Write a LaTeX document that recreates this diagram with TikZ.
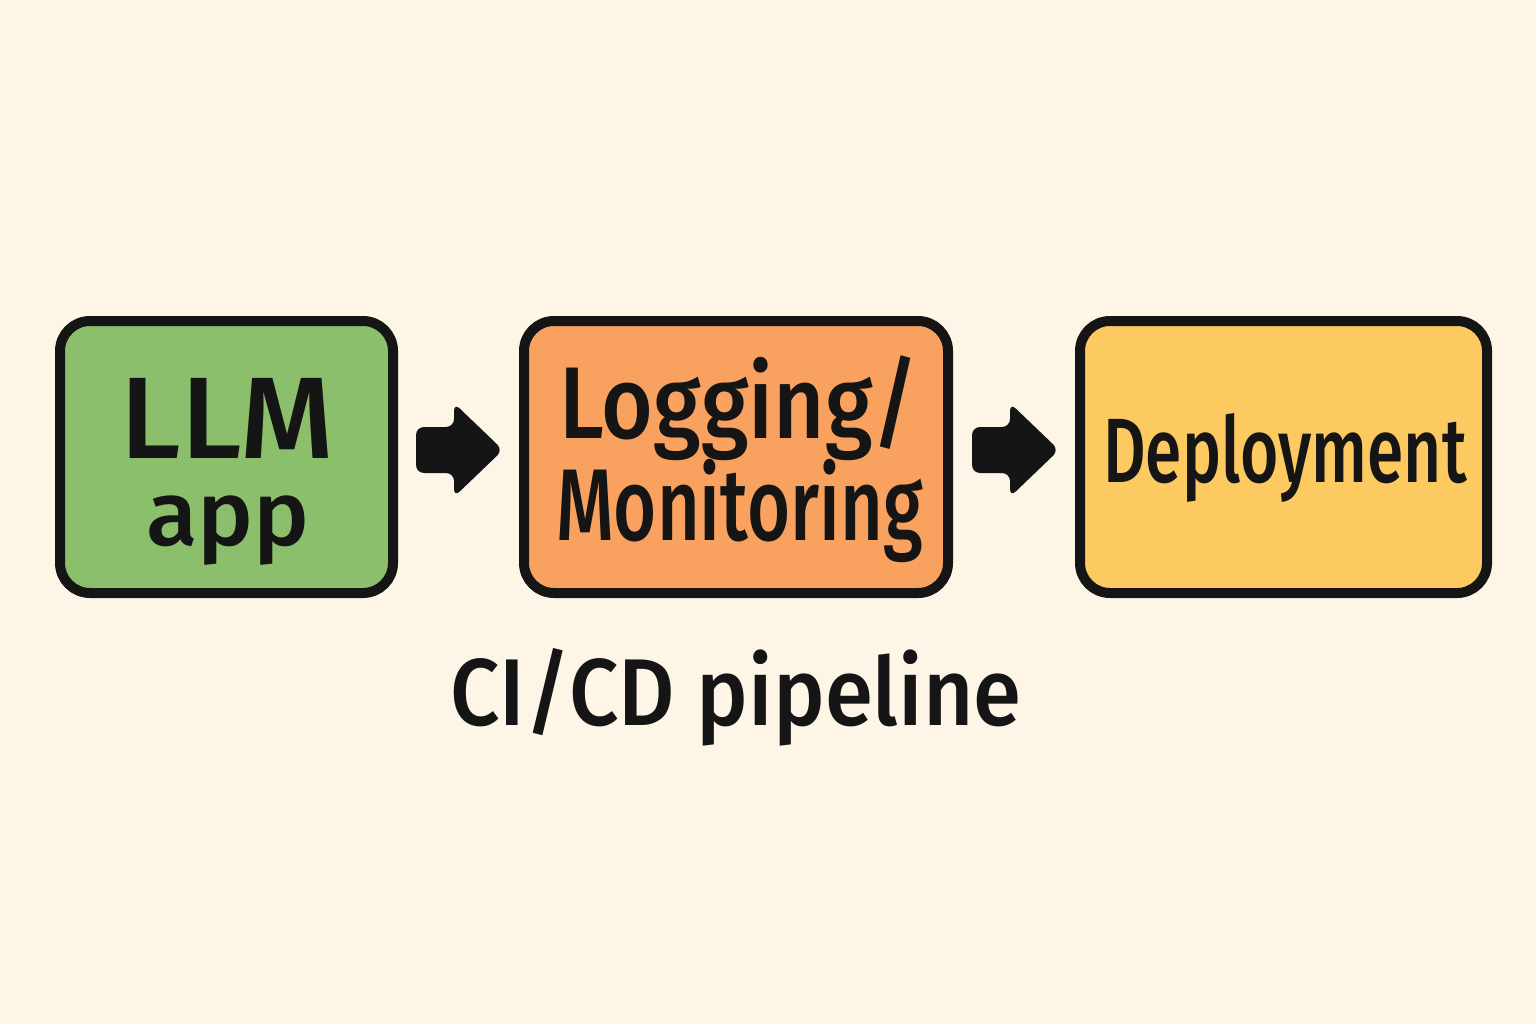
\documentclass[tikz,border=0pt]{standalone}
\usepackage{fontspec}
\setmainfont{Fira Sans}[BoldFont={Fira Sans Medium}]
\usetikzlibrary{calc}
\definecolor{bg}{HTML}{FDF6E7}
\definecolor{ink}{HTML}{151515}
\definecolor{gbox}{HTML}{8CBF6B}
\definecolor{obox}{HTML}{F9A15F}
\definecolor{ybox}{HTML}{FDC961}
\tikzset{
  stagebox/.style={draw=ink, fill=#1, line width=0.1cm, rounded corners=0.3cm, inner sep=0pt,
    minimum height=2.72cm},
  boxtext/.style={anchor=base, text=ink, inner sep=0pt, font=\bfseries\fontsize{#1}{#1}\selectfont},
  pics/blockarrow/.style={code={
    \fill[ink, rounded corners=0.08cm] (0,0.23) -- (0.38,0.23) -- (0.38,0.47) -- (0.87,0)
      -- (0.38,-0.47) -- (0.38,-0.23) -- (0,-0.23) -- cycle;}},
}
\begin{document}
\begin{tikzpicture}
\useasboundingbox[fill=bg] (0,0) rectangle (15.36,10.24);
% boxes
\node[stagebox=gbox, minimum width=3.33cm] (llm) at (2.265,5.67) {};
\node[stagebox=obox, minimum width=4.24cm] (log) at (7.36,5.67) {};
\node[stagebox=ybox, minimum width=4.07cm] (dep) at (12.835,5.67) {};
% texts
\node[boxtext=33] (llm1) at (2.275,5.66) {\scalebox{1.03}[1]{LLM}};
\node[boxtext=26] (llm2) at (2.28,4.79) {\scalebox{1.03}[1]{app}};
\node[boxtext=29] (log1) at (7.39,5.86) {\scalebox{0.87}[1]{Logging/}};
\node[boxtext=29] (log2) at (7.395,4.84) {\scalebox{0.725}[1]{Monitoring}};
\node[boxtext=26] (dep1) at (12.85,5.42) {\scalebox{0.72}[1]{Deployment}};
% arrows
\pic (a1) at ($(llm.east)+(0.18,0.07)$) {blockarrow};
\pic (a2) at ($(log.east)+(0.19,0.07)$) {blockarrow};
% caption
\node[boxtext=27] (cap) at (7.36,2.99) {\scalebox{0.918}[1]{CI/CD pipeline}};
\end{tikzpicture}
\end{document}
